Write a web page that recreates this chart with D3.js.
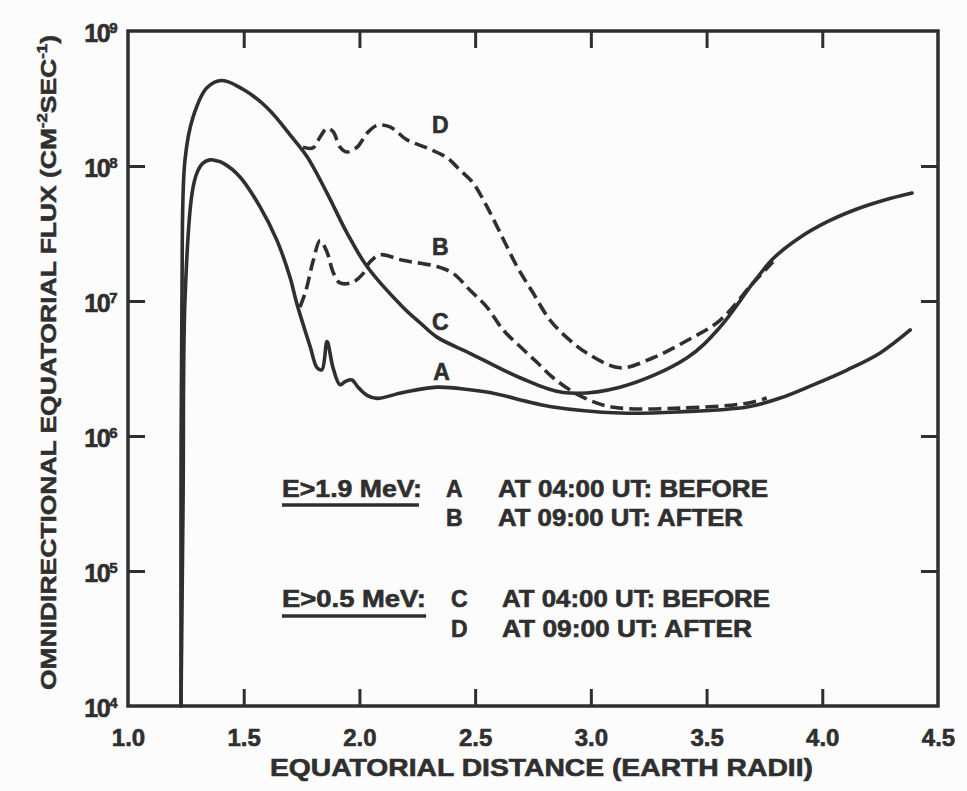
<!DOCTYPE html>
<html><head><meta charset="utf-8">
<script src="https://cdn.jsdelivr.net/npm/d3@7"></script>
<style>body{margin:0;background:#fcfcfc}svg{display:block}</style>
</head><body><svg id="c" width="967" height="791"></svg>
<script>
// ---- data ----
const xTickValues = [1.0, 1.5, 2.0, 2.5, 3.0, 3.5, 4.0, 4.5];
const xTickLabels = ["1.0", "1.5", "2.0", "2.5", "3.0", "3.5", "4.0", "4.5"];
const yTickValues = [1e4, 1e5, 1e6, 1e7, 1e8, 1e9];
const yTickExponents = ["4", "5", "6", "7", "8", "9"];

// A: E>1.9 MeV, 04:00 UT (before) - solid
const curveA_x = [1.229,1.238,1.246,1.277,1.298,1.324,1.354,1.385,1.411,1.484,1.57,1.644,1.70,1.73,1.787,1.817,1.838,1.860,1.886,1.916,1.942,1.968,1.994,2.033,2.076,2.188,2.335,2.478,2.564,2.837,3.126,3.385,3.675,3.818,3.960,4.107,4.25,4.38];
const curveA_flux = [1e4,3.4e5,1.0e7,6.3e7,8.9e7,1.05e8,1.11e8,1.09e8,1.05e8,8.3e7,5.0e7,2.8e7,1.5e7,9.5e6,4.6e6,3.2e6,3.1e6,5.0e6,3.2e6,2.4e6,2.55e6,2.6e6,2.3e6,2.0e6,1.9e6,2.1e6,2.3e6,2.2e6,2.1e6,1.64e6,1.48e6,1.51e6,1.64e6,1.91e6,2.39e6,3.08e6,4.12e6,6.1e6];
// B: E>1.9 MeV, 09:00 UT (after) - dashed
const curveB_x = [1.743,1.769,1.799,1.830,1.860,1.886,1.916,1.972,2.011,2.046,2.089,2.188,2.335,2.405,2.478,2.551,2.621,2.694,2.768,2.837,2.95,3.09,3.385,3.675,3.76];
const curveB_flux = [9.0e6,1.2e7,1.95e7,2.8e7,2.3e7,1.64e7,1.36e7,1.38e7,1.56e7,1.95e7,2.2e7,2.0e7,1.8e7,1.6e7,1.2e7,9.0e6,6.1e6,4.6e6,3.5e6,2.7e6,2.0e6,1.64e6,1.61e6,1.75e6,1.91e6];
// C: E>0.5 MeV, 04:00 UT (before) - solid
const curveC_x = [1.229,1.229,1.233,1.246,1.281,1.341,1.406,1.497,1.601,1.713,1.774,1.860,1.946,2.033,2.188,2.262,2.335,2.478,2.694,2.880,3.126,3.416,3.558,3.701,3.79,3.90,4.02,4.15,4.27,4.388];
const curveC_flux = [1e4,3.4e5,1.0e7,1.1e8,2.3e8,3.8e8,4.3e8,3.7e8,2.7e8,1.6e8,1.17e8,6.3e7,3.2e7,1.8e7,9.0e6,6.9e6,5.4e6,4.1e6,2.7e6,2.1e6,2.3e6,3.8e6,6.4e6,1.36e7,2.08e7,2.93e7,3.85e7,4.8e7,5.6e7,6.3e7];
// D: E>0.5 MeV, 09:00 UT (after) - dashed
const curveD_x = [1.756,1.799,1.830,1.860,1.886,1.916,1.946,1.990,2.033,2.076,2.132,2.206,2.292,2.379,2.435,2.491,2.551,2.608,2.681,2.750,2.824,2.910,2.984,3.126,3.269,3.416,3.558,3.701,3.787];
const curveD_flux = [1.38e8,1.36e8,1.64e8,1.9e8,1.8e8,1.38e8,1.27e8,1.38e8,1.75e8,2.0e8,1.95e8,1.56e8,1.36e8,1.15e8,9.3e7,7.5e7,5.0e7,3.2e7,1.8e7,1.15e7,7.2e6,5.1e6,4.1e6,3.2e6,3.8e6,5.1e6,7.2e6,1.36e7,1.95e7];

const curveLabels = ["A", "B", "C", "D"];
const legendGroups = ["E>1.9 MeV:", "E>0.5 MeV:"];
const legendEntries = ["AT 04:00 UT: BEFORE", "AT 09:00 UT: AFTER", "AT 04:00 UT: BEFORE", "AT 09:00 UT: AFTER"];
const xTitle = "EQUATORIAL DISTANCE (EARTH RADII)";

// ---- drawing ----
const INK = "#2f2f2f";
const FONT = "'Liberation Sans', Arial, sans-serif";
const svg = d3.select("#c");
svg.append("rect").attr("width", 967).attr("height", 791).attr("fill", "#fcfcfc");

const L = 128, R = 938, T = 31, B = 706;
const x = d3.scaleLinear().domain([1.0, 4.5]).range([L, R]);
const y = d3.scaleLog().domain([1e4, 1e9]).range([B, T]);

const TICK = 17;
function styleAxis(g) {
  g.select(".domain").remove();
  g.selectAll(".tick line").attr("stroke", INK).attr("stroke-width", 3);
  g.selectAll("text").attr("fill", INK).attr("font-family", FONT).attr("font-weight", "bold")
    .attr("stroke", INK).attr("stroke-width", 0.6);
}
const xInner = xTickValues.slice(1, -1);
const yInner = yTickValues.slice(1, -1);

// bottom axis with labels
const gb = svg.append("g").attr("transform", `translate(0,${B})`)
  .call(d3.axisBottom(x).tickValues(xTickValues).tickSize(0).tickPadding(23)
        .tickFormat((d, i) => xTickLabels[i]));
styleAxis(gb);
gb.selectAll("text").attr("font-size", 24);
// inner tick marks bottom/top
svg.append("g").attr("transform", `translate(0,${B})`)
  .call(d3.axisBottom(x).tickValues(xInner).tickSize(-TICK).tickFormat(""))
  .call(styleAxis);
svg.append("g").attr("transform", `translate(0,${T})`)
  .call(d3.axisTop(x).tickValues(xInner).tickSize(-TICK).tickFormat(""))
  .call(styleAxis);
// left axis with labels
const gl = svg.append("g").attr("transform", `translate(${L},0)`)
  .call(d3.axisLeft(y).tickValues(yTickValues).tickSize(0).tickPadding(12).tickFormat(""));
styleAxis(gl);
gl.selectAll(".tick").each(function(d, i) {
  const t = d3.select(this).select("text");
  t.attr("font-size", 25).attr("dy", "0.42em").attr("letter-spacing", -1.5);
  t.append("tspan").text("10");
  t.append("tspan").attr("font-size", 15).attr("dy", -9).text(yTickExponents[i]);
});
svg.append("g").attr("transform", `translate(${L},0)`)
  .call(d3.axisLeft(y).tickValues(yInner).tickSize(-TICK).tickFormat(""))
  .call(styleAxis);
svg.append("g").attr("transform", `translate(${R},0)`)
  .call(d3.axisRight(y).tickValues(yInner).tickSize(-TICK).tickFormat(""))
  .call(styleAxis);

// frame
svg.append("rect").attr("x", L).attr("y", T).attr("width", R - L).attr("height", B - T)
  .attr("fill", "none").attr("stroke", INK).attr("stroke-width", 3.5);

// curves
const line = d3.line().x(d => x(d[0])).y(d => y(d[1])).curve(d3.curveCatmullRom.alpha(0.5));
const series = [
  {xs: curveA_x, ys: curveA_flux, dash: null},
  {xs: curveB_x, ys: curveB_flux, dash: "13,6"},
  {xs: curveC_x, ys: curveC_flux, dash: null},
  {xs: curveD_x, ys: curveD_flux, dash: "13,6"}
];
series.forEach(s => {
  svg.append("path").datum(s.xs.map((v, i) => [v, s.ys[i]]))
    .attr("d", line).attr("fill", "none").attr("stroke", INK)
    .attr("stroke-width", 3.6).attr("stroke-linejoin", "round")
    .attr("stroke-linecap", s.dash ? "butt" : "round")
    .attr("stroke-dasharray", s.dash);
});

// curve labels (positioned in data space)
const labelPos = [[2.355, 2.6e6], [2.35, 2.2e7], [2.35, 6.1e6], [2.35, 1.75e8]];
curveLabels.forEach((t, i) => {
  svg.append("text").attr("x", x(labelPos[i][0])).attr("y", y(labelPos[i][1]))
    .attr("text-anchor", "middle").attr("font-family", FONT).attr("font-weight", "bold")
    .attr("font-size", 23).attr("fill", INK).attr("stroke", INK).attr("stroke-width", 0.6).text(t);
});

// legend
function txt(str, xx, yy, len, size) {
  const t = svg.append("text").attr("x", xx).attr("y", yy).attr("font-family", FONT)
    .attr("font-weight", "bold").attr("font-size", size || 23).attr("fill", INK)
    .attr("stroke", INK).attr("stroke-width", 0.6).text(str);
  if (len) t.attr("textLength", len).attr("lengthAdjust", "spacingAndGlyphs");
  return t;
}
txt(legendGroups[0], 282, 497, 140);
svg.append("line").attr("x1", 282).attr("x2", 419).attr("y1", 505).attr("y2", 505).attr("stroke", INK).attr("stroke-width", 3.5);
txt(curveLabels[0], 446, 497);
txt(legendEntries[0], 498, 497, 270);
txt(curveLabels[1], 446, 526);
txt(legendEntries[1], 498, 526, 245);
txt(legendGroups[1], 282, 607, 144);
svg.append("line").attr("x1", 282).attr("x2", 426).attr("y1", 616).attr("y2", 616).attr("stroke", INK).attr("stroke-width", 3.5);
txt(curveLabels[2], 451, 607);
txt(legendEntries[2], 502, 607, 268);
txt(curveLabels[3], 451, 637);
txt(legendEntries[3], 502, 637, 250);

// axis titles
txt(xTitle, 270, 776, 543, 24);
const yt = svg.append("text").attr("transform", "translate(56,690) rotate(-90)")
  .attr("font-family", FONT).attr("font-weight", "bold").attr("font-size", 22).attr("fill", INK)
  .attr("stroke", INK).attr("stroke-width", 0.5)
  .attr("textLength", 655).attr("lengthAdjust", "spacingAndGlyphs");
yt.append("tspan").text("OMNIDIRECTIONAL EQUATORIAL FLUX (CM");
yt.append("tspan").attr("font-size", 14).attr("dy", -9).text("-2");
yt.append("tspan").attr("dy", 9).text("SEC");
yt.append("tspan").attr("font-size", 14).attr("dy", -9).text("-1");
yt.append("tspan").attr("dy", 9).text(")");
</script></body></html>
